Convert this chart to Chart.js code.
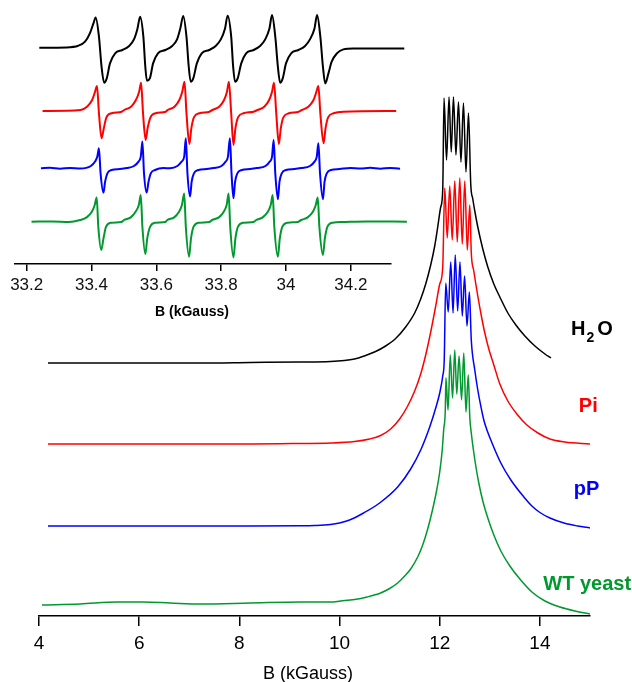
<!DOCTYPE html>
<html>
<head>
<meta charset="utf-8">
<script src="https://cdn.jsdelivr.net/npm/chart.js@4.4.0/dist/chart.umd.min.js"></script>
<style>
  html, body { margin: 0; padding: 0; background: #fff; }
  #wrap { position: relative; width: 632px; height: 682px; }
  #mainChart, #insetChart { position: absolute; left: 0; top: 0; }
</style>
</head>
<body>
<div id="wrap">
  <canvas id="mainChart" width="632" height="682"></canvas>
  <canvas id="insetChart" width="420" height="330"></canvas>
</div>
<script>
// main spectra (B in kGauss, intensity relative to each trace's own baseline)
const seriesNames = ['H2O', 'Pi', 'pP', 'WT yeast'];
const mainTicks = [4, 6, 8, 10, 12, 14];
const mainBaselines = [25.3, 17.2, 9.0, 1.1];

const h2oB = [4.18, 5.22, 6.22, 7.22, 8.22, 9.22, 9.82, 10.3, 10.52, 10.72, 10.92, 11.12, 11.32, 11.5, 11.62, 11.72, 11.82, 11.9, 11.96, 12.02, 12.06,
  12.086, 12.136, 12.186, 12.23, 12.274, 12.324, 12.374, 12.424, 12.474, 12.524, 12.574,
  12.62, 12.66, 12.70, 12.76, 12.86, 12.96, 13.08, 13.2, 13.36, 13.52, 13.7, 13.9, 14.1, 14.22];
const h2oI = [0, 0, 0, 0, 0.05, 0.1, 0.15, 0.4, 0.75, 1.15, 1.7, 2.45, 3.6, 5.0, 6.4, 7.9, 9.8, 11.7, 13.6, 15.6, 17.3,
  26.5, 20.3, 26.6, 21.1, 26.6, 20.8, 26.1, 20.1, 26.0, 19.1, 25.0,
  17.8, 16.4, 15.2, 13.6, 11.4, 9.6, 7.9, 6.6, 5.0, 3.8, 2.7, 1.7, 0.9, 0.5];

const piB = [4.18, 5.22, 6.22, 7.22, 8.22, 9.22, 9.82, 10.3, 10.6, 10.82, 11.02, 11.2, 11.36, 11.5, 11.62, 11.72, 11.82, 11.92, 12.0, 12.06,
  12.10, 12.15, 12.20, 12.25, 12.30, 12.35, 12.40, 12.45, 12.50, 12.55, 12.60,
  12.63, 12.68, 12.74, 12.82, 12.9, 12.98, 13.08, 13.2, 13.36, 13.54, 13.74, 13.96, 14.2, 14.5, 15.0];
const piI = [0, 0, 0, 0, 0, 0.05, 0.1, 0.25, 0.5, 0.85, 1.5, 2.5, 3.8, 5.3, 7.0, 8.9, 11.2, 13.8, 16.0, 17.7,
  25.6, 20.6, 25.8, 20.4, 26.3, 20.2, 26.6, 20.0, 26.3, 19.4, 23.9,
  19.1, 17.3, 15.4, 13.1, 11.1, 9.5, 7.9, 6.0, 4.3, 3.0, 1.9, 1.1, 0.5, 0.2, 0];

const ppB = [4.18, 5.22, 6.22, 7.22, 8.22, 9.22, 9.5, 9.82, 10.0, 10.2, 10.48, 10.8, 11.16, 11.42, 11.62, 11.8, 11.92, 12.0, 12.06, 12.09,
  12.12, 12.17, 12.22, 12.266, 12.31, 12.358, 12.404, 12.45, 12.496, 12.544, 12.592,
  12.63, 12.70, 12.76, 12.82, 12.88, 12.95, 13.02, 13.22, 13.42, 13.68, 13.84, 14.0, 14.2, 14.48, 14.75, 15.0];
const ppI = [0, 0, 0, 0, 0, 0.02, 0.05, 0.15, 0.3, 0.6, 1.3, 2.3, 3.9, 5.7, 7.6, 9.9, 11.8, 13.3, 15.0, 16.6,
  24.3, 21.4, 26.4, 21.3, 27.1, 21.5, 26.4, 21.0, 25.0, 20.0, 23.4,
  18.6, 15.6, 13.6, 12.0, 10.6, 9.5, 8.6, 6.3, 4.6, 2.9, 2.0, 1.35, 0.8, 0.3, 0.0, -0.2];

const wtB = [4.06, 4.82, 5.56, 6.08, 6.62, 7.22, 8.22, 9.22, 9.82, 10.02, 10.3, 10.55, 10.82, 11.0, 11.16, 11.3, 11.42, 11.56, 11.66, 11.76, 11.86, 11.94, 12.0, 12.05, 12.08, 12.11,
  12.124, 12.166, 12.21, 12.256, 12.30, 12.34, 12.386, 12.436, 12.48, 12.524, 12.57,
  12.60, 12.63, 12.67, 12.72, 12.78, 12.86, 12.96, 13.08, 13.22, 13.4, 13.6, 13.84, 14.1, 14.4, 14.7, 15.0];
const wtI = [0, 0.1, 0.3, 0.3, 0.2, 0.1, 0.2, 0.3, 0.3, 0.4, 0.55, 0.8, 1.2, 1.65, 2.2, 2.9, 3.6, 4.8, 6.0, 7.6, 9.6, 11.5, 13.3, 15.5, 17.6, 19.3,
  22.7, 19.5, 25.0, 20.7, 25.5, 21.1, 24.9, 20.5, 25.2, 19.3, 23.0,
  18.8, 17.2, 15.6, 13.9, 12.2, 10.4, 8.7, 7.0, 5.4, 3.9, 2.6, 1.3, 0.4, -0.2, -0.6, -0.9];

// inset: the hyperfine sextet, B in kGauss
const insetTicks = [33.2, 33.4, 33.6, 33.8, 34, 34.2];
const insetBaselines = [21.63, 15.3, 9.57, 4.23];

const insH2oB = [33.239, 33.323, 33.359, 33.380, 33.395, 33.406, 33.413, 33.423, 33.431, 33.439, 33.447, 33.457, 33.473, 33.495, 33.516, 33.531, 33.542,
  33.550, 33.560, 33.566, 33.571, 33.580, 33.590, 33.605, 33.628, 33.649, 33.664, 33.674,
  33.683, 33.693, 33.700, 33.706, 33.714, 33.725, 33.740, 33.763, 33.783, 33.799, 33.812,
  33.820, 33.831, 33.837, 33.843, 33.851, 33.862, 33.877, 33.900, 33.920, 33.936, 33.949,
  33.957, 33.967, 33.975, 33.982, 33.990, 34.000, 34.016, 34.038, 34.059, 34.074, 34.088,
  34.096, 34.106, 34.114, 34.121, 34.131, 34.141, 34.157, 34.177, 34.208, 34.365];
const insH2oI = [0, 0.03, 0.2, 0.6, 1.43, 2.43, 3.03, 1.1, -1.9, -3.5, -3.07, -1.57, -0.57, -0.23, 0.17, 0.83, 1.93,
  3.1, 1.1, -1.9, -3.3, -3.07, -1.57, -0.57, -0.23, 0.17, 0.83, 1.93,
  3.17, 1.1, -1.9, -3.4, -3.07, -1.57, -0.57, -0.23, 0.17, 0.83, 1.93,
  3.2, 1.1, -1.9, -3.4, -3.07, -1.57, -0.57, -0.23, 0.17, 0.83, 1.93,
  3.27, 1.1, -1.9, -3.5, -3.07, -1.57, -0.57, -0.23, 0.17, 0.83, 1.93,
  3.27, 1.1, -1.9, -3.57, -2.57, -1.4, -0.57, -0.17, -0.07, -0.07];

const insPiB = [33.249, 33.366, 33.386, 33.402, 33.411, 33.417, 33.423, 33.431, 33.438, 33.446, 33.462, 33.493,
  33.501, 33.522, 33.537, 33.547, 33.553, 33.559, 33.567, 33.573, 33.582, 33.598, 33.629,
  33.635, 33.656, 33.671, 33.680, 33.687, 33.693, 33.702, 33.708, 33.716, 33.733, 33.764,
  33.773, 33.794, 33.809, 33.818, 33.824, 33.831, 33.838, 33.844, 33.852, 33.869, 33.900,
  33.912, 33.933, 33.948, 33.957, 33.963, 33.970, 33.978, 33.984, 33.992, 34.009, 34.039,
  34.049, 34.069, 34.085, 34.094, 34.100, 34.106, 34.116, 34.122, 34.130, 34.147, 34.177, 34.340];
const insPiI = [0, 0.1, 0.43, 1.1, 1.93, 2.5, -0.23, -2.73, -1.73, -0.63, -0.23, -0.07,
  0.1, 0.43, 1.1, 1.93, 2.83, -0.23, -2.9, -1.73, -0.63, -0.23, -0.07,
  0.1, 0.43, 1.1, 1.93, 2.93, -0.23, -3.3, -1.73, -0.63, -0.23, -0.07,
  0.1, 0.43, 1.1, 1.93, 2.93, -0.23, -3.4, -1.73, -0.63, -0.23, -0.07,
  0.1, 0.43, 1.1, 1.93, 2.83, -0.23, -3.3, -1.73, -0.63, -0.23, -0.07,
  0.1, 0.43, 1.1, 1.93, 2.5, -0.23, -3.23, -1.73, -0.63, -0.23, -0.07, 0];

const insPpB = [33.244, 33.272, 33.303, 33.334, 33.365,
  33.398, 33.411, 33.418, 33.423, 33.428, 33.437, 33.442, 33.449, 33.462, 33.488, 33.509,
  33.531, 33.545, 33.552, 33.557, 33.562, 33.570, 33.576, 33.583, 33.596, 33.622, 33.642,
  33.665, 33.678, 33.686, 33.691, 33.696, 33.704, 33.709, 33.716, 33.730, 33.756, 33.776,
  33.801, 33.814, 33.821, 33.827, 33.832, 33.838, 33.843, 33.850, 33.864, 33.889, 33.910,
  33.937, 33.950, 33.957, 33.962, 33.967, 33.975, 33.980, 33.987, 34.000, 34.026, 34.047,
  34.074, 34.088, 34.095, 34.100, 34.105, 34.114, 34.119, 34.126, 34.139, 34.165,
  34.198, 34.229, 34.260, 34.291, 34.321, 34.352, 34.384, 34.402];
const insPpI = [0, 0.05, -0.04, 0.04, -0.03,
  0.23, 0.67, 1.17, 2.0, -0.5, -2.43, -1.33, -0.5, -0.17, -0.07, 0.03,
  0.23, 0.67, 1.17, 2.67, -0.5, -2.43, -1.33, -0.5, -0.17, 0.03, 0,
  0.23, 0.67, 1.17, 3.0, -0.5, -2.83, -1.33, -0.5, -0.17, -0.07, 0.03,
  0.23, 0.67, 1.17, 3.0, -0.5, -3.0, -1.33, -0.5, -0.17, -0.07, 0.03,
  0.23, 0.67, 1.17, 2.83, -0.5, -3.1, -1.33, -0.5, -0.17, -0.07, 0.03,
  0.23, 0.67, 1.17, 2.5, -0.5, -3.1, -1.33, -0.5, -0.17, -0.07,
  0.04, -0.03, 0.05, -0.04, 0.03, -0.04, 0.03, 0];

const insWtB = [33.215, 33.280, 33.330,
  33.365, 33.385, 33.401, 33.410, 33.416, 33.421, 33.430, 33.437, 33.445, 33.461, 33.492,
  33.500, 33.521, 33.536, 33.546, 33.552, 33.557, 33.566, 33.572, 33.581, 33.597, 33.628,
  33.634, 33.655, 33.670, 33.679, 33.686, 33.691, 33.701, 33.707, 33.715, 33.732, 33.763,
  33.772, 33.793, 33.808, 33.817, 33.823, 33.828, 33.838, 33.844, 33.852, 33.869, 33.900,
  33.908, 33.928, 33.944, 33.953, 33.959, 33.964, 33.975, 33.981, 33.989, 34.006, 34.036,
  34.047, 34.067, 34.083, 34.092, 34.098, 34.103, 34.114, 34.120, 34.128, 34.144, 34.175,
  34.250, 34.373];
const insWtI = [0, 0.03, -0.03,
  0.17, 0.43, 1.0, 1.67, 2.43, -0.5, -2.83, -1.67, -0.5, -0.1, -0.03,
  0.17, 0.43, 1.0, 1.67, 2.67, -0.5, -3.23, -1.67, -0.5, -0.1, -0.03,
  0.17, 0.43, 1.0, 1.67, 2.83, -0.5, -3.5, -1.67, -0.5, -0.1, -0.03,
  0.17, 0.43, 1.0, 1.67, 2.83, -0.5, -3.57, -1.67, -0.5, -0.1, -0.03,
  0.17, 0.43, 1.0, 1.67, 2.67, -0.5, -3.5, -1.67, -0.5, -0.1, -0.03,
  0.17, 0.43, 1.0, 1.67, 2.43, -0.5, -3.33, -1.67, -0.5, -0.1, -0.03,
  0.03, 0];

const seriesColors = ['#000000', '#ff0000', '#0000ff', '#00992e'];
const FONT = '"Liberation Sans", Arial, sans-serif';

function toPoints(bs, vals, offset) {
  return bs.map((b, i) => ({ x: b, y: vals[i] + offset }));
}

function makeSets(pairs, baselines, width, clip) {
  return pairs.map((p, i) => ({
    label: seriesNames[i],
    data: toPoints(p[0], p[1], baselines[i]),
    borderColor: seriesColors[i],
    borderWidth: width,
    pointRadius: 0,
    fill: false,
    cubicInterpolationMode: 'monotone',
    clip: clip
  }));
}

// trace names next to each trace, axis titles
const mainLabels = {
  id: 'mainLabels',
  afterDatasetsDraw(chart) {
    const { ctx, scales: { x, y } } = chart;
    ctx.save();
    ctx.textBaseline = 'alphabetic';
    ctx.font = 'bold 20px ' + FONT;
    ctx.fillStyle = seriesColors[0];
    ctx.textAlign = 'left';
    let px = x.getPixelForValue(14.62);
    const py = y.getPixelForValue(28.1);
    ctx.fillText('H', px, py);
    px += ctx.measureText('H').width + 1;
    ctx.font = 'bold 14px ' + FONT;
    ctx.fillText('2', px, py + 6.5);
    px += ctx.measureText('2').width + 3;
    ctx.font = 'bold 20px ' + FONT;
    ctx.fillText('O', px, py);

    ctx.textAlign = 'right';
    ctx.fillStyle = seriesColors[1];
    ctx.fillText('Pi', x.getPixelForValue(15.154), y.getPixelForValue(20.43));
    ctx.fillStyle = seriesColors[2];
    ctx.fillText('pP', x.getPixelForValue(15.186), y.getPixelForValue(12.1));
    ctx.fillStyle = seriesColors[3];
    ctx.fillText('WT yeast', x.getPixelForValue(15.82), y.getPixelForValue(2.6));

    ctx.fillStyle = '#000';
    ctx.textAlign = 'center';
    ctx.textBaseline = 'middle';
    ctx.font = '18px ' + FONT;
    ctx.fillText('B (kGauss)', x.getPixelForValue(9.37), chart.chartArea.bottom + 58);
    ctx.restore();
  }
};

const insetTitle = {
  id: 'insetTitle',
  afterDraw(chart) {
    const { ctx, scales: { x } } = chart;
    ctx.save();
    ctx.fillStyle = '#000';
    ctx.textAlign = 'center';
    ctx.textBaseline = 'middle';
    ctx.font = 'bold 14px ' + FONT;
    ctx.fillText('B (kGauss)', x.getPixelForValue(33.71), chart.chartArea.bottom + 48);
    ctx.restore();
  }
};

new Chart(document.getElementById('mainChart'), {
  type: 'line',
  data: {
    datasets: makeSets([[h2oB, h2oI], [piB, piI], [ppB, ppI], [wtB, wtI]], mainBaselines, 1.5, true)
  },
  options: {
    responsive: false,
    animation: false,
    events: [],
    layout: { padding: { top: 90, left: 39, right: 42, bottom: 0 } },
    plugins: { legend: { display: false }, tooltip: { enabled: false } },
    scales: {
      x: {
        type: 'linear',
        min: 4,
        max: 15,
        afterBuildTicks: s => { s.ticks = mainTicks.map(v => ({ value: v })); },
        afterFit: s => { s.height = 66; },
        ticks: { color: '#000', font: { family: FONT, size: 19 }, padding: 6, maxRotation: 0, callback: v => String(v) },
        grid: { drawOnChartArea: false, drawTicks: true, tickLength: 10, color: '#000', lineWidth: 1.5 },
        border: { display: true, color: '#000', width: 1.5 }
      },
      y: { display: false, min: 0, max: 52.6 }
    }
  },
  plugins: [mainLabels]
});

new Chart(document.getElementById('insetChart'), {
  type: 'line',
  data: {
    datasets: makeSets([[insH2oB, insH2oI], [insPiB, insPiI], [insPpB, insPpI], [insWtB, insWtI]], insetBaselines, 2, false)
  },
  options: {
    responsive: false,
    animation: false,
    events: [],
    layout: { padding: { top: 4, left: 15, right: 29, bottom: 0 } },
    plugins: { legend: { display: false }, tooltip: { enabled: false } },
    scales: {
      x: {
        type: 'linear',
        min: 33.164,
        max: 34.324,
        afterBuildTicks: s => { s.ticks = insetTicks.map(v => ({ value: v })); },
        afterFit: s => { s.height = 66; },
        ticks: { color: '#111', font: { family: FONT, size: 17 }, padding: 4, maxRotation: 0, callback: v => String(v) },
        grid: { drawOnChartArea: false, drawTicks: true, tickLength: 7, color: '#000', lineWidth: 1.5 },
        border: { display: true, color: '#000', width: 1.5 }
      },
      y: { display: false, min: 0, max: 26 }
    }
  },
  plugins: [insetTitle]
});
</script>
</body>
</html>
